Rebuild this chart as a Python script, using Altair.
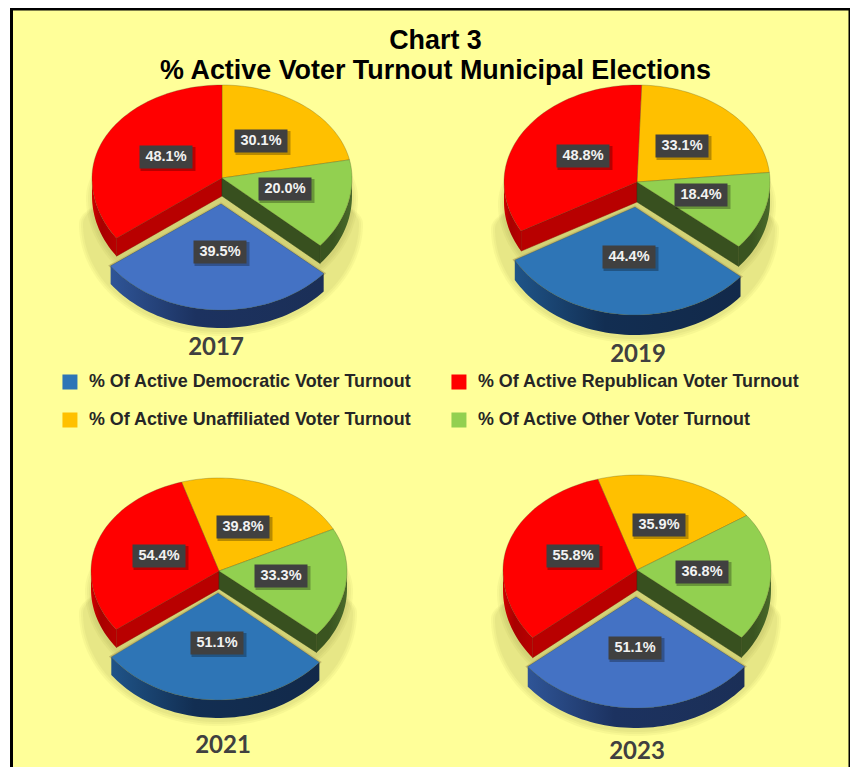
import math
import altair as alt

# ---- values ----
years = ["2017", "2019", "2021", "2023"]
parties = ["Unaffiliated", "Other", "Democratic", "Republican"]
unaffiliated = [30.1, 33.1, 39.8, 35.9]
other = [20.0, 18.4, 33.3, 36.8]
democratic = [39.5, 44.4, 51.1, 51.1]
republican = [48.1, 48.8, 54.4, 55.8]

legend_labels = ["% Of Active Democratic Voter Turnout", "% Of Active Republican Voter Turnout",
                 "% Of Active Unaffiliated Voter Turnout", "% Of Active Other Voter Turnout"]
legend_colors = ["#2E75B6", "#FF0000", "#FFC000", "#92D050"]
title_lines = ["Chart 3", "% Active Voter Turnout Municipal Elections"]

# ---- layout (page pixels) ----
W, H = 842, 767
OFF = 8
# cx, cy, rx, ry_up, ry_down, start angle, depth, blue dx, blue dy, blue rx, blue ry
pies = [
    (222, 178, 130, 93, 103, 0, 18, -1, 26, 136, 106),
    (637, 182, 133, 97, 100, 2, 20, -2, 25, 138, 108),
    (219, 571, 128, 93, 98, -17, 18, -1, 22, 133, 107),
    (637, 570, 134, 95, 108, -17, 20, -1, 27, 139, 111),
]
label_pos = {
    "Unaffiliated": [(261, 141), (682, 146), (243, 527), (659, 525)],
    "Other": [(285, 189), (701, 195), (281, 576), (702, 572)],
    "Democratic": [(220, 252), (629, 257), (217, 643), (635, 648)],
    "Republican": [(166, 157), (583, 156), (159, 556), (573, 556)],
}
year_pos = [(216, 348), (638, 355), (223, 746), (637, 752)]
title_pos = [(435.5, 41), (435.5, 71)]

BG = "#FFFF99"
series = {"Unaffiliated": unaffiliated, "Other": other, "Democratic": democratic, "Republican": republican}
legend_name = {"Democratic": legend_labels[0], "Republican": legend_labels[1],
               "Unaffiliated": legend_labels[2], "Other": legend_labels[3]}


def pt(cx, cy, rx, ru, rd, a):
    r = math.radians(a)
    c = math.cos(r)
    return [cx + rx * math.sin(r) - OFF, cy - (ru if c > 0 else rd) * c - OFF]


def arc(cx, cy, rx, ru, rd, a0, a1):
    n = max(2, int(abs(a1 - a0) / 2))
    return [pt(cx, cy, rx, ru, rd, a0 + (a1 - a0) * i / n) for i in range(n + 1)]


def feature(points, **props):
    ring = points + [points[0]]
    return {"type": "Feature", "properties": props, "geometry": {"type": "Polygon", "coordinates": [ring]}}


faces, blue_alt, blue_under, red_walls, red_cuts, green_walls, green_cuts = [], [], [], [], [], [], []
walls_a, walls_b, shadows = [], [], []

for i, p in enumerate(pies):
    cx, cy, rx, ru, rd, start, d, bdx, bdy, brx, bry = p
    total = sum(series[k][i] for k in parties)
    a = start
    angles = {}
    for k in parties:
        b = a + series[k][i] / total * 360
        angles[k] = (a, b)
        a = b
    c0 = [cx - OFF, cy - OFF]

    # soft shadows
    for g in (2, 4, 6):
        shadows.append(feature(arc(cx, cy + d + 2, rx + g, ru - 15, rd + g, 0, 360)))
        shadows.append(feature(arc(cx + bdx, cy + bdy + d + 2, brx + g, 40, bry + g, 0, 360)))

    for k in parties:
        a0, a1 = angles[k]
        if k == "Democratic":
            cc = [cx + bdx - OFF, cy + bdy - OFF]
            pts = [cc] + arc(cx + bdx, cy + bdy, brx, ru, bry, a0, a1)
            blue_under.append(feature(pts))
            top = arc(cx + bdx, cy + bdy, brx, ru, bry, a0, a1)
            low = [[x, y + d] for x, y in top]
            (walls_a if i in (0, 3) else walls_b).append(feature(top + low[::-1]))
        else:
            pts = [c0] + arc(cx, cy, rx, ru, rd, a0, a1)
        faces.append(feature(pts, party=legend_name[k]))
        if k == "Democratic" and i in (0, 3):
            blue_alt.append(feature(pts))

    # outer and cut walls of the two neighbours of the exploded slice
    a0, a1 = angles["Republican"]
    top = arc(cx, cy, rx, ru, rd, a0, 270)
    red_walls.append(feature(top + [[x, y + d] for x, y in top][::-1]))
    e = pt(cx, cy, rx, ru, rd, a0)
    red_cuts.append(feature([c0, e, [e[0], e[1] + d], [c0[0], c0[1] + d]]))
    a0, a1 = angles["Other"]
    top = arc(cx, cy, rx, ru, rd, 90, a1)
    green_walls.append(feature(top + [[x, y + d] for x, y in top][::-1]))
    e = pt(cx, cy, rx, ru, rd, a1)
    green_cuts.append(feature([c0, e, [e[0], e[1] + d], [c0[0], c0[1] + d]]))


def geo(features):
    return alt.Data(values={"type": "FeatureCollection", "features": features},
                    format=alt.DataFormat(property="features", type="json"))


def shape(features, **style):
    return alt.Chart(geo(features)).mark_geoshape(**style).project(type="identity", scale=1, translate=[0, 0])


def grad(c0, c1, c2):
    return alt.Gradient(gradient="linear", x1=0, x2=1, y1=0, y2=0,
                        stops=[alt.GradientStop(color=c0, offset=0), alt.GradientStop(color=c1, offset=0.4),
                               alt.GradientStop(color=c2, offset=1)])


X = alt.X("x:Q", scale=alt.Scale(domain=[0, W]), axis=None)
Y = alt.Y("y:Q", scale=alt.Scale(domain=[H, 0]), axis=None)

bg = alt.Chart(alt.Data(values=[{"x": 11.5 - OFF, "x2": 850 - OFF, "y": 1, "y2": H + 10}])).mark_rect(
    fill=BG, stroke="#000000", strokeWidth=3, clip=True
).encode(x=X, x2="x2:Q", y=Y, y2="y2:Q")

shadow = shape(shadows, fill="#6E6E2A", fillOpacity=0.055, strokeWidth=0)
rw = shape(red_walls, fill=grad("#D00000", "#A80000", "#B80000"), strokeWidth=0)
rc = shape(red_cuts, fill="#B80000", stroke="#8A0000", strokeWidth=0.5)
gw = shape(green_walls, fill=grad("#3A5420", "#3A5420", "#4A6A2A"), strokeWidth=0)
gc = shape(green_cuts, fill="#38501F", stroke="#2B3E18", strokeWidth=0.5)
under = shape(blue_under, fill=BG, stroke="#C4BC6C", strokeWidth=3)
wa = shape(walls_a, fill=grad("#2F5597", "#1C3260", "#1B2F57"), strokeWidth=0)
wb = shape(walls_b, fill=grad("#1F5488", "#122E52", "#12294A"), strokeWidth=0)

color = alt.Color(
    "properties.party:N",
    scale=alt.Scale(domain=legend_labels, range=legend_colors),
    legend=alt.Legend(
        title=None, orient="none", legendX=53, legendY=364, direction="horizontal", columns=2,
        symbolType="square", symbolSize=225, symbolStrokeWidth=0, labelFont="Liberation Sans",
        labelFontWeight="bold", labelFontSize=17.9, labelColor="#262626", labelLimit=400,
        labelOffset=10, columnPadding=38, rowPadding=18, clipHeight=20, padding=0,
    ),
)
top = shape(faces, stroke="#4A4A20", strokeWidth=0.5, strokeOpacity=0.55).encode(color=color)
top_alt = shape(blue_alt, fill="#4472C4", stroke="#4A4A20", strokeWidth=0.5, strokeOpacity=0.3)

rows = []
for k in parties:
    for i in range(4):
        x, y = label_pos[k][i]
        rows.append({"x": x - OFF, "y": y - OFF, "label": f"{series[k][i]:.1f}%"})
shadow_rows = [{"x": r["x"] + 2, "y": r["y"] + 2} for r in rows]

label_shadow = alt.Chart(alt.Data(values=shadow_rows)).mark_rect(width=55, height=24, fill="#000000", opacity=0.28).encode(x=X, y=Y)
label_box = alt.Chart(alt.Data(values=rows)).mark_rect(width=53, height=23, fill="#404040").encode(x=X, y=Y)
label_text = alt.Chart(alt.Data(values=rows)).mark_text(
    font="Liberation Sans", fontWeight="bold", fontSize=14.5, color="#F2F2F2", baseline="middle", align="center"
).encode(x=X, y=Y, text="label:N")

yr = alt.Chart(alt.Data(values=[{"x": p[0] - OFF, "y": p[1] - OFF, "t": t} for p, t in zip(year_pos, years)])).mark_text(
    font="Lato", fontWeight="bold", fontSize=24, color="#404040", baseline="middle", align="center"
).encode(x=X, y=Y, text="t:N")

ttl = alt.Chart(alt.Data(values=[{"x": p[0] - OFF, "y": p[1] - OFF, "t": t} for p, t in zip(title_pos, title_lines)])).mark_text(
    font="Liberation Sans", fontWeight="bold", fontSize=26.9, color="#000000", baseline="middle", align="center"
).encode(x=X, y=Y, text="t:N")

chart = alt.layer(bg, shadow, rw, rc, gw, gc, under, wa, wb, top, top_alt,
                  label_shadow, label_box, label_text, yr, ttl).properties(
    width=W, height=H, padding=0, background="#FFFFFF", autosize=alt.AutoSizeParams(type="none")
).configure_view(stroke=None)

chart.save("out.html", embed_options={"renderer": "svg", "actions": False})
